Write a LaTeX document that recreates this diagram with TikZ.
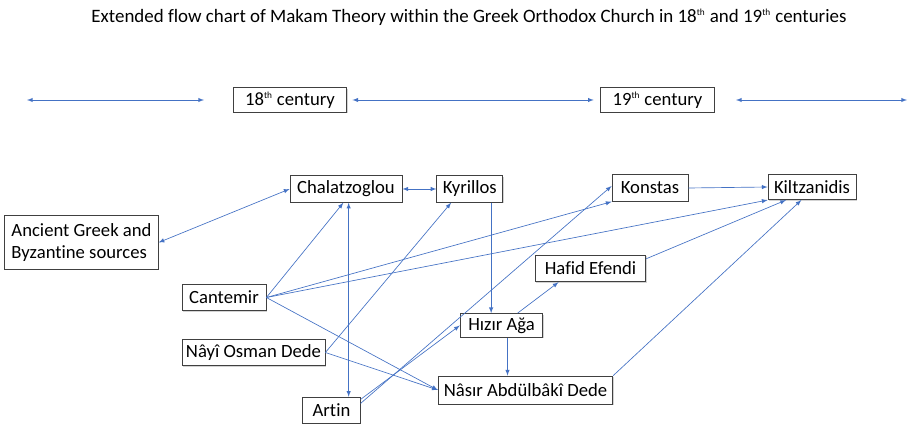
\documentclass[tikz,border=0pt]{standalone}
\usepackage{fontspec}
\setmainfont{Carlito}[Ligatures=CommonOff]
\usepackage{tikz}
\usetikzlibrary{shapes,arrows,positioning,calc,shadows}
\definecolor{linkblue}{RGB}{68,114,196}
\newcommand{\ordsup}[1]{\textsuperscript{\scriptsize #1}}

\begin{document}
\begin{tikzpicture}[
    x=0.75pt, y=-0.75pt,
    node distance=1.5cm,
    person/.style={rectangle, draw=black!75, fill=white, line width=0.6pt, minimum height=20pt, inner sep=3pt, font=\fontsize{14}{17}\selectfont, drop shadow={shadow xshift=0.8pt, shadow yshift=-0.8pt, opacity=0.35}},
    era/.style={person, minimum width=85pt, minimum height=18pt},
    link/.style={-latex, linkblue, line width=0.5pt},
    twoway/.style={latex-latex, linkblue, line width=0.5pt}
]
\useasboundingbox (0,0) rectangle (908,424);

% Title
\node[font=\fontsize{14.2}{16}\selectfont] (title) at (469,17) {Extended flow chart of Makam Theory within the Greek Orthodox Church in 18\ordsup{th} and 19\ordsup{th} centuries};

% Centuries
\node[era] (c18) at (290,100) {18\ordsup{th} century};
\node[era, right=190pt of c18] (c19) {19\ordsup{th} century};
\coordinate (farleft) at (27,100);
\coordinate (nearleft) at (204,100);
\coordinate (nearright) at (736,100);
\coordinate (farright) at (907,100);

% Sources
\node[person, align=left, minimum width=115pt, minimum height=40pt] (anc) at (81.5,242.5) {Ancient Greek and\\[-1pt]Byzantine sources};

% 18th century theorists
\node[person, minimum width=84pt] (chal) at (346,189) {Chalatzoglou};
\node[person, minimum width=49.5pt, right=25.5pt of chal] (kyr) {Kyrillos};
\node[person, minimum width=63pt] (cant) at (224,297.5) {Cantemir};
\node[person, minimum width=107pt] (nayi) at (253.5,352.5) {Nâyî Osman Dede};
\node[person, minimum width=43pt] (artin) at (331.5,410.5) {Artin};

% 19th century theorists
\node[person, minimum width=57pt] (kons) at (650,188) {Konstas};
\node[person, minimum width=66pt, minimum height=19pt] (kilt) at (812,187) {Kiltzanidis};
\node[person, minimum width=83pt] (hafid) at (590.5,268.5) {Hafid Efendi};
\node[person, minimum width=62pt, minimum height=17pt] (hizir) at (501.5,325.5) {Hızır Ağa};
\node[person, minimum width=131pt, minimum height=21pt] (nasir) at (525.5,390) {Nâsır Abdülbâkî Dede};

% Time line
\draw[twoway] (farleft) -- (nearleft);
\draw[twoway, shorten <=4pt, shorten >=5pt] (c18) -- (c19);
\draw[twoway] (nearright) -- (farright);

% Arrows
\draw[twoway] (anc.east) -- (chal.west);
\draw[twoway] (chal.east) -- (kyr.west);
\draw[link] (cant.east) -- ([xshift=-2pt]chal.south);
\draw[twoway] ([xshift=2pt]chal.south) -- ([xshift=2pt]chal.south |- artin.north);
\draw[link] (nayi.east) -- ([xshift=-14pt]kyr.south);
\draw[link] (cant.east) -- (kons.south west);
\draw[link] (cant.east) -- (kilt.south west);
\draw[link] (cant.east) -- (nasir.west);
\draw[link] (nayi.east) -- (nasir.west);
\draw[link] ([yshift=-2pt]artin.north east) -- (hizir.west);
\draw[link] ([yshift=-5pt]artin.north east) -- ([yshift=1.5pt]kons.west);
\draw[link] ([xshift=16pt]kyr.south) -- ([xshift=16pt]kyr.south |- hizir.north);
\draw[link] ([xshift=12pt]hizir.north) -- ([xshift=-24pt]hafid.south);
\draw[link] ([xshift=4.5pt]hizir.south) -- ([xshift=4.5pt]hizir.south |- nasir.north);
\draw[link] ([yshift=-3pt]hafid.north east) -- ([xshift=-19.5pt]kilt.south);
\draw[link] (nasir.north east) -- ([xshift=-8pt]kilt.south);
\draw[link] (kons.east) -- (kilt.west);

\end{tikzpicture}
\end{document}
